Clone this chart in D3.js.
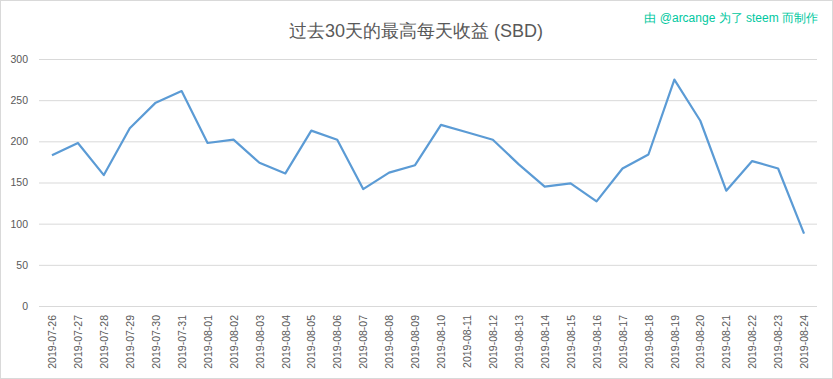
<html>
<head>
<style>
body { margin: 0; background: #fff; }
text { font-family: 'Liberation Sans', Arial, sans-serif; }
.tick text { fill: #595959; font-size: 10.5px; }
</style>
</head>
<body>

<svg></svg>

<script src="https://d3js.org/d3.v7.min.js"></script>
<script>

const dates = [
    '2019-07-26', '2019-07-27', '2019-07-28', '2019-07-29', '2019-07-30', '2019-07-31',
    '2019-08-01', '2019-08-02', '2019-08-03', '2019-08-04', '2019-08-05', '2019-08-06',
    '2019-08-07', '2019-08-08', '2019-08-09', '2019-08-10', '2019-08-11', '2019-08-12',
    '2019-08-13', '2019-08-14', '2019-08-15', '2019-08-16', '2019-08-17', '2019-08-18',
    '2019-08-19', '2019-08-20', '2019-08-21', '2019-08-22', '2019-08-23', '2019-08-24',
];

const values = [
    183, 198, 159, 216, 247, 261,
    198, 202, 174, 161, 213, 202,
    142, 162, 171, 220, 211, 202,
    172, 145, 149, 127, 167, 184,
    275, 225, 140, 176, 167, 88,
];

const yTicks = [0, 50, 100, 150, 200, 250, 300];

const title = '过去30天的最高每天收益 (SBD)';
const credit = '由 @arcange 为了 steem 而制作';

const fullWidth = 833;
const fullHeight = 379;
const plot = {left: 39, right: 817, top: 59, bottom: 306};

const svg = d3.select('svg')
    .attr('width', fullWidth)
    .attr('height', fullHeight);

svg.append('rect')
    .attr('x', 0.5)
    .attr('y', 0.5)
    .attr('width', fullWidth - 1)
    .attr('height', fullHeight - 1)
    .attr('fill', '#fff')
    .attr('stroke', '#d9d9d9');

const x = d3.scalePoint()
    .domain(dates)
    .range([plot.left, plot.right])
    .padding(0.5);

const y = d3.scaleLinear()
    .domain([0, 300])
    .range([plot.bottom, plot.top]);

// gridlines + y labels
const yAxis = svg.append('g')
    .attr('transform', `translate(${plot.left}, 0)`)
    .call(d3.axisLeft(y).tickValues(yTicks).tickSize(plot.left - plot.right).tickPadding(11));

yAxis.select('.domain').remove();
yAxis.selectAll('.tick line').attr('stroke', '#d9d9d9');

// x labels
const xAxis = svg.append('g')
    .attr('transform', `translate(0, ${plot.bottom})`)
    .call(d3.axisBottom(x).tickSize(0));

xAxis.select('.domain').remove();
xAxis.selectAll('.tick text')
    .attr('transform', 'rotate(-90)')
    .attr('text-anchor', 'end')
    .attr('x', -9)
    .attr('y', 0)
    .attr('dy', '0.35em');

const line = d3.line()
    .x((d, i) => x(dates[i]))
    .y(d => y(d));

svg.append('path')
    .datum(values)
    .attr('fill', 'none')
    .attr('stroke', '#5b9bd5')
    .attr('stroke-width', 2.2)
    .attr('stroke-linejoin', 'round')
    .attr('d', line);

svg.append('text')
    .attr('x', 416)
    .attr('y', 37)
    .attr('text-anchor', 'middle')
    .style('font-size', '18px')
    .style('fill', '#595959')
    .text(title);

svg.append('text')
    .attr('x', 818)
    .attr('y', 22)
    .attr('text-anchor', 'end')
    .style('font-size', '12px')
    .style('fill', '#00c8a0')
    .text(credit);

</script>
</body>
</html>
